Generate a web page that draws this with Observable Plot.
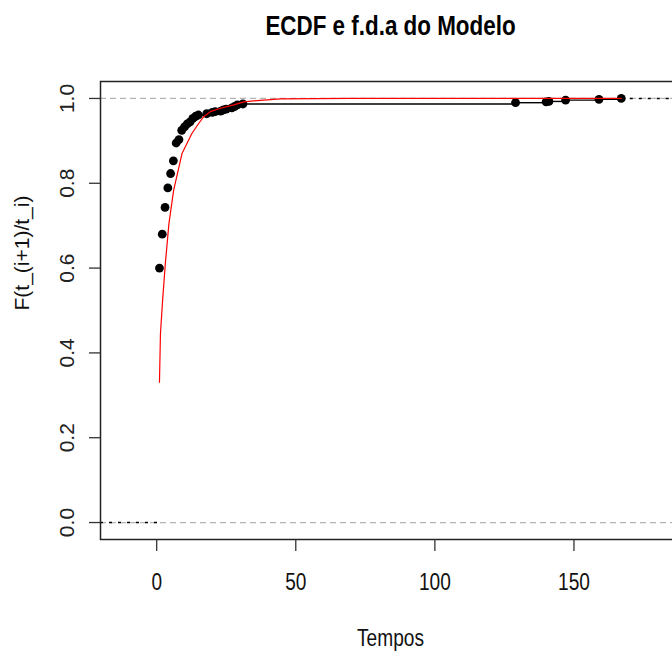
<!DOCTYPE html>
<html>
<head>
<meta charset="utf-8">
<script src="https://cdn.jsdelivr.net/npm/d3@7"></script>
<script src="https://cdn.jsdelivr.net/npm/@observablehq/plot@0.6"></script>
<style>
  html, body { margin: 0; padding: 0; background: #fff; }
  svg { display: block; }
</style>
</head>
<body>
<div id="chart"></div>
<script>
// ECDF (empirical) knots
const ecdfT = [1, 2, 3, 4, 5, 6, 7, 8, 9, 10, 11, 12, 13, 14, 15, 18, 20, 21, 23, 24, 25, 27, 28, 29, 31, 129, 140, 141, 147, 159, 167];
const ecdfF = [0.600, 0.680, 0.743, 0.789, 0.823, 0.853, 0.895, 0.903, 0.925, 0.933, 0.940, 0.945, 0.953, 0.958, 0.961, 0.964, 0.967, 0.969, 0.970, 0.973, 0.975, 0.978, 0.981, 0.985, 0.987, 0.990, 0.992, 0.993, 0.996, 0.998, 1.000];

// Model CDF (red curve)
const modelT = [1, 1.35, 2.2, 3.1, 4.4, 6.1, 8.3, 9.1, 12.7, 15.1, 16.9, 19.3, 22.9, 27.7, 31.3, 36.1, 44.5, 69.6, 167];
const modelF = [0.331, 0.445, 0.531, 0.610, 0.705, 0.784, 0.847, 0.870, 0.918, 0.941, 0.957, 0.969, 0.977, 0.985, 0.992, 0.995, 0.999, 1.000, 1.000];

const xTicks = [0, 50, 100, 150];
const yTicks = [0, 0.2, 0.4, 0.6, 0.8, 1.0];
const refLines = [0, 1];
const xDomain = [-20.2, 188.3];
const yDomain = [-0.04, 1.04];

const titleText = "ECDF e f.d.a do Modelo";
const xLabel = "Tempos";
const yLabel = "F(t_(i+1)/t_i)";

const ecdf = ecdfT.map((t, i) => ({t, F: ecdfF[i]}));
const steps = ecdfT.slice(0, -1).map((t, i) => ({x1: t, x2: ecdfT[i + 1], y: ecdfF[i]}));
const model = modelT.map((t, i) => ({t, F: modelF[i]}));

const font = "'Liberation Sans', Arial, sans-serif";

const chart = Plot.plot({
  width: 672,
  height: 652,
  marginLeft: 100,
  marginRight: -8,
  marginTop: 81,
  marginBottom: 113,
  style: {fontFamily: font, color: "#111", background: "#fff"},
  x: {domain: xDomain},
  y: {domain: yDomain},
  marks: [
    Plot.ruleY(refLines, {stroke: "#b4b4b4", strokeWidth: 1.2, strokeDasharray: "6,4"}),
    Plot.ruleY([ecdfF[0] * 0], {x1: xDomain[0], x2: ecdfT[0], stroke: "#000", strokeWidth: 1.4, strokeDasharray: "3,6"}),
    Plot.ruleY([ecdfF[ecdfF.length - 1]], {x1: ecdfT[ecdfT.length - 1], x2: xDomain[1], stroke: "#000", strokeWidth: 1.4, strokeDasharray: "3,6"}),
    Plot.ruleY(steps, {x1: "x1", x2: "x2", y: "y", stroke: "#000", strokeWidth: 1.4}),
    Plot.dot(ecdf, {x: "t", y: "F", r: 4.4, fill: "#000", stroke: "none"}),
    Plot.line(model, {x: "t", y: "F", stroke: "#ff0000", strokeWidth: 1.2}),
    Plot.frame({stroke: "#222", strokeWidth: 1.5}),
    Plot.axisX(xTicks, {
      tickSize: 12, tickPadding: 22, fontSize: 23, fontFamily: font,
      stroke: "#333", strokeWidth: 1.3, label: null, tickFormat: d => String(d)
    }),
    Plot.axisY(yTicks, {
      tickSize: 11, stroke: "#333", strokeWidth: 1.3, label: null, tickFormat: () => ""
    }),
    Plot.axisY(yTicks, {
      tickSize: 0, tickPadding: 33, fontSize: 21, fontFamily: font,
      rotate: -90, textAnchor: "middle", strokeOpacity: 0,
      label: null, tickFormat: d => d.toFixed(1), fill: "#222"
    }),
    Plot.text([titleText], {
      frameAnchor: "top", lineAnchor: "bottom", dy: -47,
      fontSize: 27, fontWeight: "bold", fontFamily: font, fill: "#000"
    }),
    Plot.text([xLabel], {
      frameAnchor: "bottom", lineAnchor: "bottom", dy: 106,
      fontSize: 23, fontFamily: font, fill: "#111"
    }),
    Plot.text([yLabel], {
      frameAnchor: "left", lineAnchor: "middle", dx: -78, rotate: -90,
      fontSize: 21, fontFamily: font, fill: "#111"
    })
  ]
});
document.getElementById("chart").appendChild(chart);

// condense the horizontally written texts (the reference uses a narrow face)
const condense = function () {
  const L = this.getComputedTextLength();
  this.setAttribute("textLength", (L * 0.83).toFixed(1));
  this.setAttribute("lengthAdjust", "spacingAndGlyphs");
};
d3.select(chart).selectAll('g[aria-label="x-axis tick label"] text').each(condense);
d3.select(chart).selectAll("text")
  .filter(function () { return this.textContent === titleText || this.textContent === xLabel; })
  .each(condense);
</script>
</body>
</html>
